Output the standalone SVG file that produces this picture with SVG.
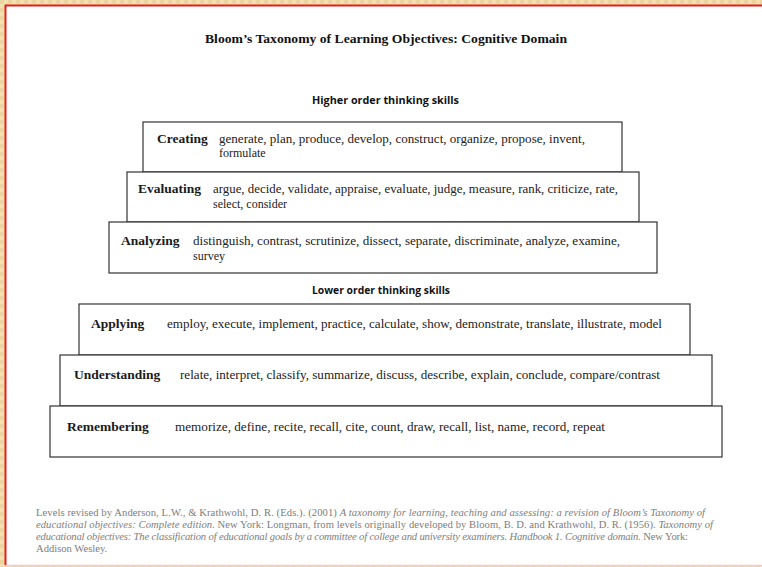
<svg xmlns="http://www.w3.org/2000/svg" width="762" height="567" viewBox="0 0 762 567">
  <defs>
    <pattern id="weave" width="8" height="8" patternUnits="userSpaceOnUse">
      <rect width="8" height="8" fill="#f3e0b2"/>
      <rect width="4" height="4" fill="#ecd49c"/>
      <rect x="4" y="4" width="4" height="4" fill="#ecd49c"/>
    </pattern>
    <style>
      .box { fill: #ffffff; stroke: #333333; stroke-width: 1.2; }
      .head { font-family: "Liberation Serif", serif; font-weight: bold; font-size: 13px; fill: #111111; }
      .sub { font-family: "Open Sans", "Liberation Sans", sans-serif; font-weight: bold; font-size: 11px; fill: #111111; }
      .lvl { font-family: "Liberation Serif", serif; font-weight: bold; font-size: 13.5px; fill: #1a1a1a; }
      .verbs { font-family: "Liberation Serif", serif; font-size: 12px; fill: #222222; }
      .ref { font-family: "Liberation Serif", serif; font-size: 10.6px; fill: #7d7d7d; }
      .it { font-style: italic; }
    </style>
  </defs>

  <!-- page frame -->
  <rect width="762" height="567" fill="url(#weave)"/>
  <rect x="5" y="5" width="757" height="560" fill="#ffffff"/>
  <line x1="5" y1="5.5" x2="762" y2="5.5" stroke="#dd2020" stroke-width="2"/>
  <line x1="5.5" y1="5" x2="5.5" y2="565" stroke="#dd2020" stroke-width="2"/>
  <line x1="6" y1="565.5" x2="762" y2="565.5" stroke="#f6c6d6" stroke-width="1.5"/>

  <!-- headings -->
  <text class="head" x="205" y="43" textLength="362" lengthAdjust="spacingAndGlyphs">Bloom’s Taxonomy of Learning Objectives: Cognitive Domain</text>
  <text class="sub" x="312" y="104" textLength="147" lengthAdjust="spacingAndGlyphs">Higher order thinking skills</text>
  <text class="sub" x="312" y="294" textLength="138" lengthAdjust="spacingAndGlyphs">Lower order thinking skills</text>

  <!-- higher order levels -->
  <g id="creating">
    <rect class="box" x="143" y="122" width="479" height="50"/>
    <text class="lvl" x="157" y="143">Creating</text>
    <text class="verbs" x="219" y="143" textLength="366" lengthAdjust="spacingAndGlyphs">generate, plan, produce, develop, construct, organize, propose, invent,</text>
    <text class="verbs" x="219" y="157">formulate</text>
  </g>
  <g id="evaluating">
    <rect class="box" x="127" y="172" width="512" height="50"/>
    <text class="lvl" x="138" y="193">Evaluating</text>
    <text class="verbs" x="213" y="193" textLength="405" lengthAdjust="spacingAndGlyphs">argue, decide, validate, appraise, evaluate, judge, measure, rank, criticize, rate,</text>
    <text class="verbs" x="213" y="208">select, consider</text>
  </g>
  <g id="analyzing">
    <rect class="box" x="109" y="222" width="548" height="51"/>
    <text class="lvl" x="121" y="245">Analyzing</text>
    <text class="verbs" x="193" y="245" textLength="427" lengthAdjust="spacingAndGlyphs">distinguish, contrast, scrutinize, dissect, separate, discriminate, analyze, examine,</text>
    <text class="verbs" x="193" y="260">survey</text>
  </g>

  <!-- lower order levels -->
  <g id="applying">
    <rect class="box" x="79" y="304" width="611" height="51"/>
    <text class="lvl" x="91" y="328">Applying</text>
    <text class="verbs" x="167" y="328" textLength="495" lengthAdjust="spacingAndGlyphs">employ, execute, implement, practice, calculate, show, demonstrate, translate, illustrate, model</text>
  </g>
  <g id="understanding">
    <rect class="box" x="60" y="355" width="652" height="51"/>
    <text class="lvl" x="74" y="379">Understanding</text>
    <text class="verbs" x="180" y="379" textLength="480" lengthAdjust="spacingAndGlyphs">relate, interpret, classify, summarize, discuss, describe, explain, conclude, compare/contrast</text>
  </g>
  <g id="remembering">
    <rect class="box" x="50" y="406" width="672" height="51"/>
    <text class="lvl" x="67" y="431">Remembering</text>
    <text class="verbs" x="175" y="431" textLength="430" lengthAdjust="spacingAndGlyphs">memorize, define, recite, recall, cite, count, draw, recall, list, name, record, repeat</text>
  </g>

  <!-- citation -->
  <text class="ref" x="36" y="516" textLength="669" lengthAdjust="spacing">Levels revised by Anderson, L.W., &amp; Krathwohl, D. R. (Eds.). (2001) <tspan class="it">A taxonomy for learning, teaching and assessing: a revision of Bloom’s Taxonomy of</tspan></text>
  <text class="ref" x="36" y="528" textLength="677" lengthAdjust="spacing"><tspan class="it">educational objectives: Complete edition.</tspan>  New York: Longman, from levels originally developed by Bloom, B. D. and Krathwohl, D. R.  (1956).  <tspan class="it">Taxonomy of</tspan></text>
  <text class="ref" x="36" y="540" textLength="652" lengthAdjust="spacing"><tspan class="it">educational objectives: The classification of educational goals by a committee of college and university examiners. Handbook 1. Cognitive domain.</tspan>  New York:</text>
  <text class="ref" x="36" y="552">Addison Wesley.</text>
</svg>
